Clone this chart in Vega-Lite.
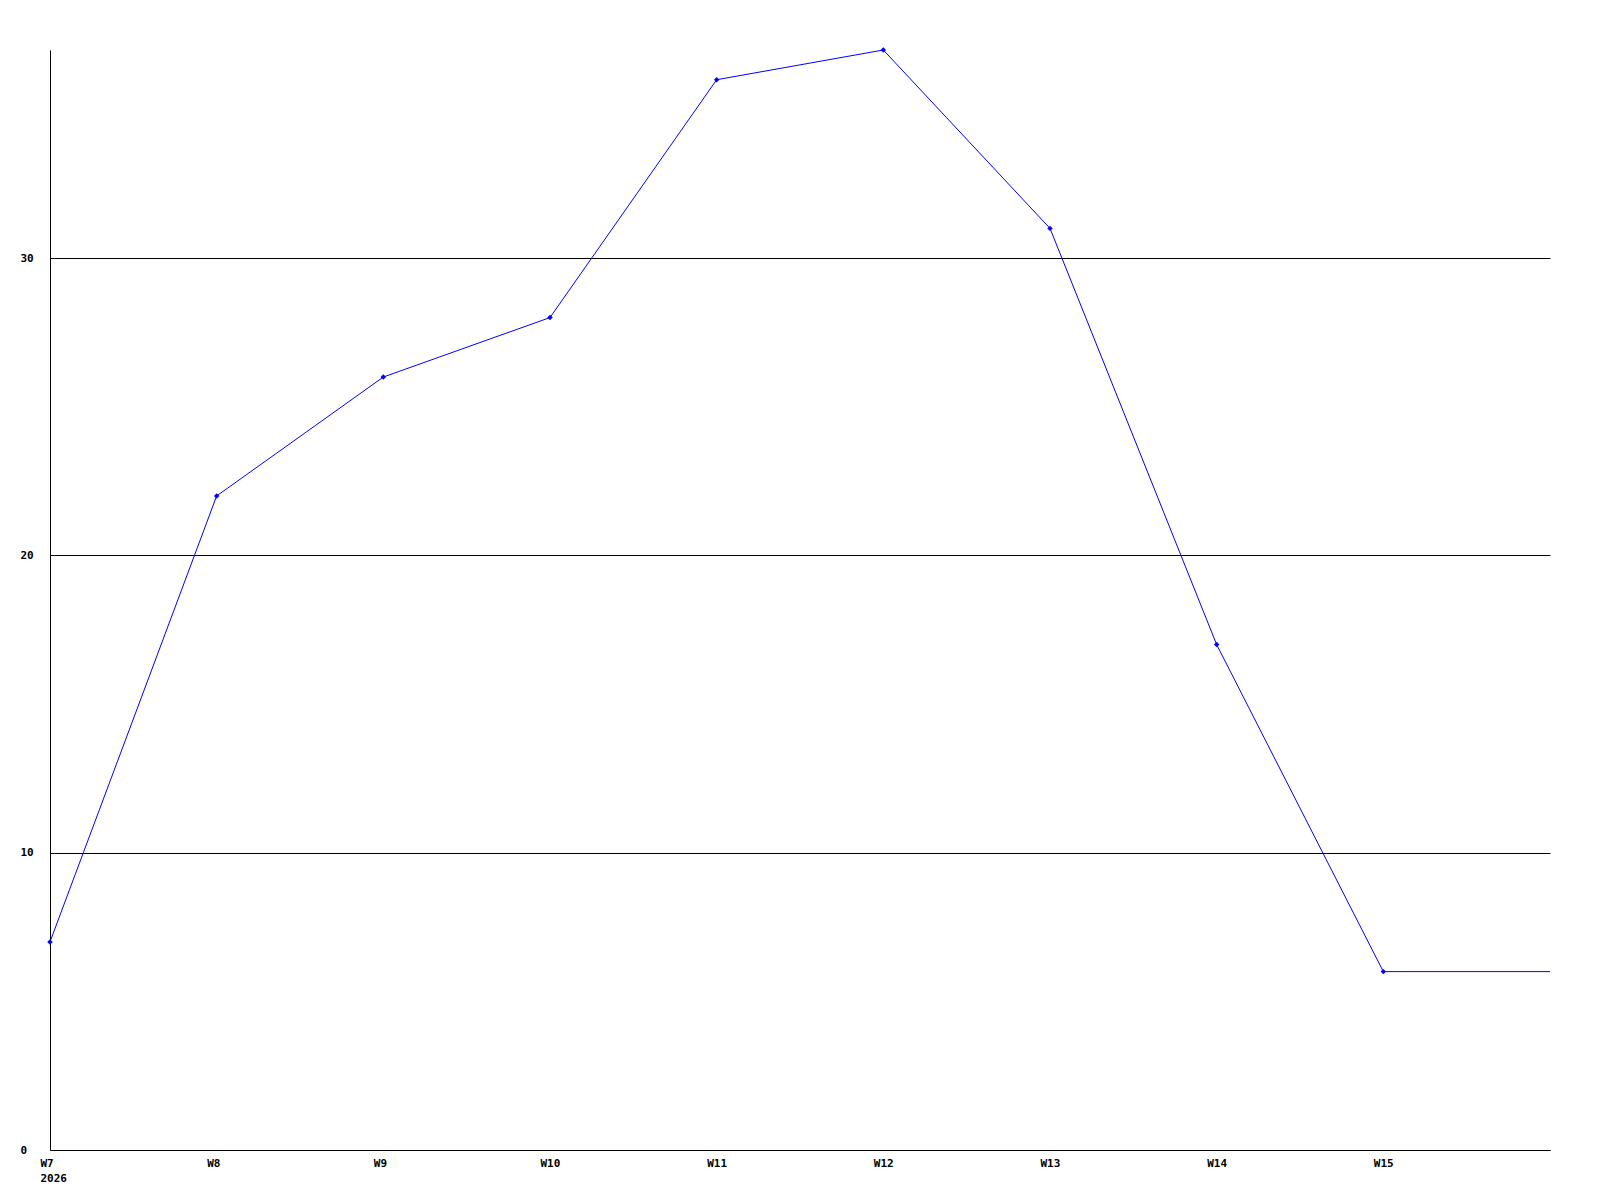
{
  "$schema": "https://vega.github.io/schema/vega-lite/v6.json",
  "width": 1500,
  "height": 1100,
  "autosize": {"type": "none"},
  "padding": {"left": 50, "top": 50, "right": 50, "bottom": 50},
  "background": "white",
  "config": {"view": {"stroke": null}},
  "data": {
    "values": [
      {"week": 7, "value": 7},
      {"week": 8, "value": 22},
      {"week": 9, "value": 26},
      {"week": 10, "value": 28},
      {"week": 11, "value": 36},
      {"week": 12, "value": 37},
      {"week": 13, "value": 31},
      {"week": 14, "value": 17},
      {"week": 15, "value": 6},
      {"week": 16, "value": 6}
    ]
  },
  "encoding": {
    "x": {
      "field": "week",
      "type": "quantitative",
      "scale": {"domain": [7, 16], "nice": false, "zero": false},
      "axis": {
        "title": null,
        "values": [7, 8, 9, 10, 11, 12, 13, 14, 15],
        "labelExpr": "datum.value == 7 ? ['W7', '2026'] : 'W' + datum.value",
        "ticks": false,
        "grid": false,
        "domainColor": "black",
        "labelColor": "black",
        "labelFont": "DejaVu Sans Mono",
        "labelFontWeight": "bold",
        "labelFontSize": 11,
        "labelLineHeight": 15,
        "labelPadding": 7,
        "labelAlign": "left",
        "labelOffset": -10,
        "labelFlush": false,
        "labelOverlap": false
      }
    },
    "y": {
      "field": "value",
      "type": "quantitative",
      "scale": {"domain": [0, 37], "nice": false},
      "axis": {
        "title": null,
        "values": [0, 10, 20, 30],
        "ticks": false,
        "grid": true,
        "gridColor": "black",
        "gridOpacity": 1,
        "gridWidth": 1,
        "domainColor": "black",
        "labelColor": "black",
        "labelFont": "DejaVu Sans Mono",
        "labelFontWeight": "bold",
        "labelFontSize": 11,
        "labelAlign": "left",
        "labelPadding": 30,
        "labelFlush": false
      }
    }
  },
  "layer": [
    {
      "mark": {"type": "line", "color": "#0000ff", "strokeWidth": 1}
    },
    {
      "transform": [{"filter": "datum.week <= 15"}],
      "mark": {"type": "point", "shape": "diamond", "filled": true, "color": "#0000ff", "size": 30, "opacity": 1}
    }
  ]
}
